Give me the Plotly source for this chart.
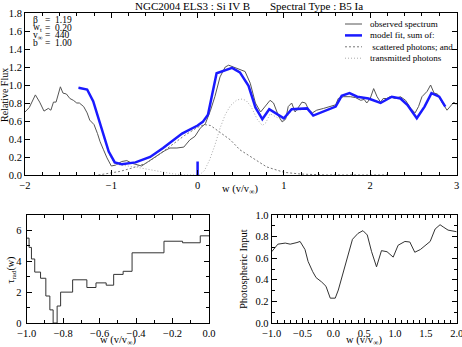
import plotly.graph_objects as go

W, H = 462, 347
FONT = "Liberation Serif"

# observed spectrum (top panel)
obs_w = [-2.00, -1.95, -1.88, -1.83, -1.78, -1.73, -1.70, -1.67, -1.64, -1.59,
         -1.56, -1.52, -1.48, -1.44, -1.40, -1.37, -1.32, -1.28, -1.25, -1.20,
         -1.16, -1.13, -1.09, -1.05, -1.00, -0.95, -0.88, -0.82, -0.76, -0.70,
         -0.65, -0.57, -0.50, -0.43, -0.38, -0.32, -0.24, -0.16, -0.09, -0.03,
         0.03, 0.09, 0.15, 0.20, 0.26, 0.32, 0.36, 0.42, 0.49, 0.55,
         0.61, 0.67, 0.73, 0.78, 0.84, 0.88, 0.94, 0.98, 1.02, 1.05,
         1.09, 1.13, 1.17, 1.21, 1.25, 1.29, 1.33, 1.38, 1.46, 1.54,
         1.60, 1.63, 1.69, 1.77, 1.83, 1.89, 1.93, 1.96, 2.00, 2.04,
         2.08, 2.12, 2.15, 2.19, 2.23, 2.29, 2.35, 2.41, 2.47, 2.52,
         2.56, 2.60, 2.66, 2.70, 2.74, 2.78, 2.83, 2.89, 2.93, 2.97, 3.00]
obs_f = [0.70, 0.75, 0.89, 0.81, 0.71, 0.74, 0.72, 0.81, 0.81, 0.98,
         0.91, 0.90, 0.85, 0.83, 0.80, 0.80, 0.76, 0.69, 0.61, 0.56,
         0.46, 0.37, 0.28, 0.19, 0.10, 0.11, 0.15, 0.16, 0.13, 0.11,
         0.10, 0.15, 0.20, 0.24, 0.27, 0.30, 0.30, 0.31, 0.39, 0.43,
         0.52, 0.57, 0.72, 0.87, 1.09, 1.20, 1.22, 1.20, 1.17, 1.15,
         1.02, 0.80, 0.70, 0.76, 0.83, 0.80, 0.65, 0.59, 0.62, 0.76,
         0.80, 0.70, 0.76, 0.81, 0.80, 0.72, 0.69, 0.72, 0.74, 0.76,
         0.78, 0.85, 0.87, 0.87, 0.86, 0.83, 0.84, 0.80, 0.85, 0.96,
         0.87, 0.81, 0.85, 0.85, 0.87, 0.85, 0.87, 0.83, 0.74, 0.69,
         0.76, 0.87, 0.93, 1.00, 0.91, 0.90, 0.81, 0.72, 0.76, 0.81, 0.78]

# model fit
model_w = [-1.38, -1.28, -1.21, -1.11, -1.03, -0.96, -0.88, -0.72, -0.55, -0.40,
           -0.18, 0.00, 0.06, 0.12, 0.22, 0.40, 0.49, 0.59, 0.67, 0.75,
           0.83, 1.00, 1.09, 1.27, 1.34, 1.60, 1.67, 1.76, 1.85, 1.98,
           2.12, 2.25, 2.35, 2.43, 2.54, 2.63, 2.71, 2.80, 2.87]
model_f = [0.97, 0.95, 0.82, 0.50, 0.26, 0.14, 0.12, 0.14, 0.20, 0.30,
           0.46, 0.55, 0.59, 0.67, 1.13, 1.19, 1.14, 0.99, 0.75, 0.62,
           0.73, 0.63, 0.73, 0.74, 0.66, 0.76, 0.88, 0.91, 0.87, 0.85,
           0.80, 0.87, 0.85, 0.78, 0.63, 0.76, 0.91, 0.87, 0.76]

# scattered photons
scat_w = [-1.15, -1.00, -0.90, -0.75, -0.60, -0.47, -0.30, -0.15, 0.00, 0.08,
          0.15, 0.30, 0.38, 0.49, 0.57, 0.69, 0.80, 1.00, 1.20, 1.50, 2.20]
scat_f = [0.00, 0.02, 0.04, 0.08, 0.13, 0.21, 0.33, 0.44, 0.53, 0.56,
          0.55, 0.44, 0.39, 0.28, 0.23, 0.15, 0.09, 0.03, 0.01, 0.00, 0.00]

# transmitted photons
trans_w = [-1.38, -1.28, -1.21, -1.11, -1.03, -0.96, -0.88, -0.70, -0.50, -0.30,
           -0.15, 0.02, 0.08, 0.14, 0.20, 0.26, 0.32, 0.38, 0.45, 0.50,
           0.56, 0.62, 0.69, 0.75, 0.79, 0.84, 1.00, 1.09, 1.27, 1.34,
           1.60, 1.67, 1.76, 1.85, 1.98, 2.12, 2.25, 2.35, 2.43, 2.54,
           2.63, 2.71, 2.80, 2.87]
trans_f = [0.97, 0.95, 0.82, 0.49, 0.24, 0.12, 0.11, 0.085, 0.05, 0.015,
           0.00, 0.00, 0.05, 0.17, 0.33, 0.52, 0.67, 0.77, 0.83, 0.845,
           0.83, 0.76, 0.62, 0.55, 0.58, 0.68, 0.60, 0.72, 0.73, 0.66,
           0.76, 0.88, 0.91, 0.87, 0.85, 0.80, 0.87, 0.85, 0.78, 0.63,
           0.76, 0.91, 0.87, 0.76]

# rest-velocity marker
rest_w = [0.0, 0.0]
rest_f = [0.0, 0.15]

# tau_rad(w) step function (left edges, last value repeated)
tau_w = [-1.0, -0.987, -0.974, -0.956, -0.924, -0.895, -0.873, -0.855, -0.833, -0.814,
         -0.748, -0.670, -0.620, -0.564, -0.523, -0.471, -0.422, -0.247, -0.145, -0.048, 0.0]
tau_v = [5.5, 4.9, 4.15, 3.3, 2.9, 1.75, 0.85, 0.0, 1.1, 2.0,
         2.8, 2.3, 2.6, 2.45, 3.15, 3.35, 4.55, 5.3, 5.2, 5.65, 5.65]

# photospheric input
phot_w = [-1.00, -0.95, -0.90, -0.78, -0.70, -0.59, -0.54, -0.46, -0.41, -0.335,
          -0.28, -0.19, -0.12, -0.05, 0.03, 0.08, 0.15, 0.23, 0.31, 0.40,
          0.48, 0.55, 0.62, 0.70, 0.78, 0.87, 0.97, 1.05, 1.16, 1.24,
          1.32, 1.41, 1.57, 1.65, 1.73, 1.78, 1.86, 2.00]
phot_f = [0.66, 0.70, 0.73, 0.74, 0.73, 0.745, 0.755, 0.68, 0.57, 0.475,
          0.42, 0.38, 0.34, 0.23, 0.23, 0.305, 0.45, 0.61, 0.775, 0.83,
          0.855, 0.815, 0.66, 0.52, 0.67, 0.66, 0.61, 0.72, 0.755, 0.75,
          0.655, 0.68, 0.755, 0.87, 0.91, 0.89, 0.86, 0.845]

title_left = "NGC2004 ELS3 : Si IV B"
title_right = "Spectral Type : B5 Ia"
fit_names = ["β", "w<sub>t</sub>", "v<sub>∞</sub>", "b"]
fit_values = ["1.19", "0.20", "440", "1.00"]
legend_labels = ["observed spectrum", "model fit, sum of:",
                 "\u00a0scattered photons; and", "transmitted photons"]
legend_styles = [("#555555", 1, "solid"), ("#1a1aff", 2.5, "solid"),
                 ("#777777", 1, "2px,2px"), ("#aaaaaa", 1, "1px,2px")]


def px(x):
    return x / W


def py(y):
    return 1 - y / H


fig = go.Figure()
fig.add_trace(go.Scatter(x=obs_w, y=obs_f, mode="lines",
                         line=dict(color="#555555", width=1), xaxis="x", yaxis="y"))
fig.add_trace(go.Scatter(x=scat_w, y=scat_f, mode="lines",
                         line=dict(color="#777777", width=1, dash="2px,2px"), xaxis="x", yaxis="y"))
fig.add_trace(go.Scatter(x=trans_w, y=trans_f, mode="lines",
                         line=dict(color="#aaaaaa", width=1, dash="1px,2px"), xaxis="x", yaxis="y"))
fig.add_trace(go.Scatter(x=model_w, y=model_f, mode="lines",
                         line=dict(color="#1a1aff", width=2.5), xaxis="x", yaxis="y"))
fig.add_trace(go.Scatter(x=rest_w, y=rest_f, mode="lines",
                         line=dict(color="#1a1aff", width=2.5), xaxis="x", yaxis="y"))
fig.add_trace(go.Scatter(x=tau_w, y=tau_v, mode="lines", line_shape="hv",
                         line=dict(color="#333333", width=1), xaxis="x2", yaxis="y2"))
fig.add_trace(go.Scatter(x=phot_w, y=phot_f, mode="lines",
                         line=dict(color="#333333", width=1), xaxis="x3", yaxis="y3"))

axis_style = dict(showline=True, linecolor="black", linewidth=1, mirror="allticks",
                  ticks="inside", ticklen=5, tickcolor="black", showgrid=False,
                  zeroline=False, automargin=False, ticklabeloverflow="allow",
                  tickfont=dict(family=FONT, size=10.5, color="black"))
minor_style = dict(ticks="inside", ticklen=3, tickcolor="black")

fig.update_layout(
    width=W, height=H, showlegend=False,
    margin=dict(l=0, r=0, t=0, b=0, pad=0, autoexpand=False),
    paper_bgcolor="white", plot_bgcolor="white",
    font=dict(family=FONT, size=10.5, color="black"),
    xaxis=dict(domain=[px(25), px(456.5)], anchor="y", range=[-2, 3], dtick=1,
               minor=dict(dtick=0.2, **minor_style), **axis_style),
    yaxis=dict(domain=[py(175), py(13)], anchor="x", range=[0, 1.8], dtick=0.2,
               tickformat=".1f", **axis_style),
    xaxis2=dict(domain=[px(26.7), px(209)], anchor="y2", range=[-1, 0], dtick=0.2,
                tickformat=".1f", minor=dict(dtick=0.1, **minor_style), **axis_style),
    yaxis2=dict(domain=[py(323), py(215)], anchor="x2", range=[0, 7], dtick=2,
                ticklabelstandoff=2,
                minor=dict(dtick=1, **minor_style), **axis_style),
    xaxis3=dict(domain=[px(271.7), px(456.7)], anchor="y3", range=[-1, 2], dtick=0.5,
                tickformat=".1f", minor=dict(dtick=0.1, **minor_style), **axis_style),
    yaxis3=dict(domain=[py(323), py(215)], anchor="x3", range=[0, 1], dtick=0.2,
                tickformat=".1f", minor=dict(dtick=0.1, **minor_style), **axis_style),
)

ann = [
    dict(text=title_left, x=px(192), y=py(6.5), font=dict(size=11)),
    dict(text=title_right, x=px(316.5), y=py(6.5), font=dict(size=11)),
    dict(text="w (v/v<sub>∞</sub>)", x=px(240), y=py(190)),
    dict(text="Relative Flux", x=px(5), y=py(95), textangle=-90, font=dict(size=10)),
    dict(text="τ<sub>rad</sub>(w)", x=px(10.5), y=py(270), textangle=-90, font=dict(size=10)),
    dict(text="w (v/v<sub>∞</sub>)", x=px(118), y=py(340)),
    dict(text="Photospheric Input", x=px(243), y=py(269), textangle=-90),
    dict(text="w (v/v<sub>∞</sub>)", x=px(364), y=py(340)),
]
for a in ann:
    fig.add_annotation(xref="paper", yref="paper", showarrow=False,
                       xanchor="center", yanchor="middle", **a)

for i, (name, val) in enumerate(zip(fit_names, fit_values)):
    yy = py(20 + i * 7.7)
    fig.add_annotation(text=name, xref="paper", yref="paper", x=px(31), y=yy,
                       xanchor="left", yanchor="middle", showarrow=False,
                       font=dict(size=9.5))
    fig.add_annotation(text="=\u00a0\u00a0" + val, xref="paper", yref="paper", x=px(42.5), y=yy,
                       xanchor="left", yanchor="middle", showarrow=False,
                       font=dict(size=9.5))

for i, (lab, (col, lw, dash)) in enumerate(zip(legend_labels, legend_styles)):
    yy = py(24 + i * 11.4)
    fig.add_shape(type="line", xref="paper", yref="paper", x0=px(345), x1=px(362),
                  y0=yy, y1=yy, line=dict(color=col, width=lw, dash=dash))
    fig.add_annotation(text=lab, xref="paper", yref="paper", x=px(368), y=yy,
                       xanchor="left", yanchor="middle", showarrow=False,
                       font=dict(size=9))

fig.write_html("out.html", config={"displayModeBar": False},
               post_script="document.body.style.margin='0';")
